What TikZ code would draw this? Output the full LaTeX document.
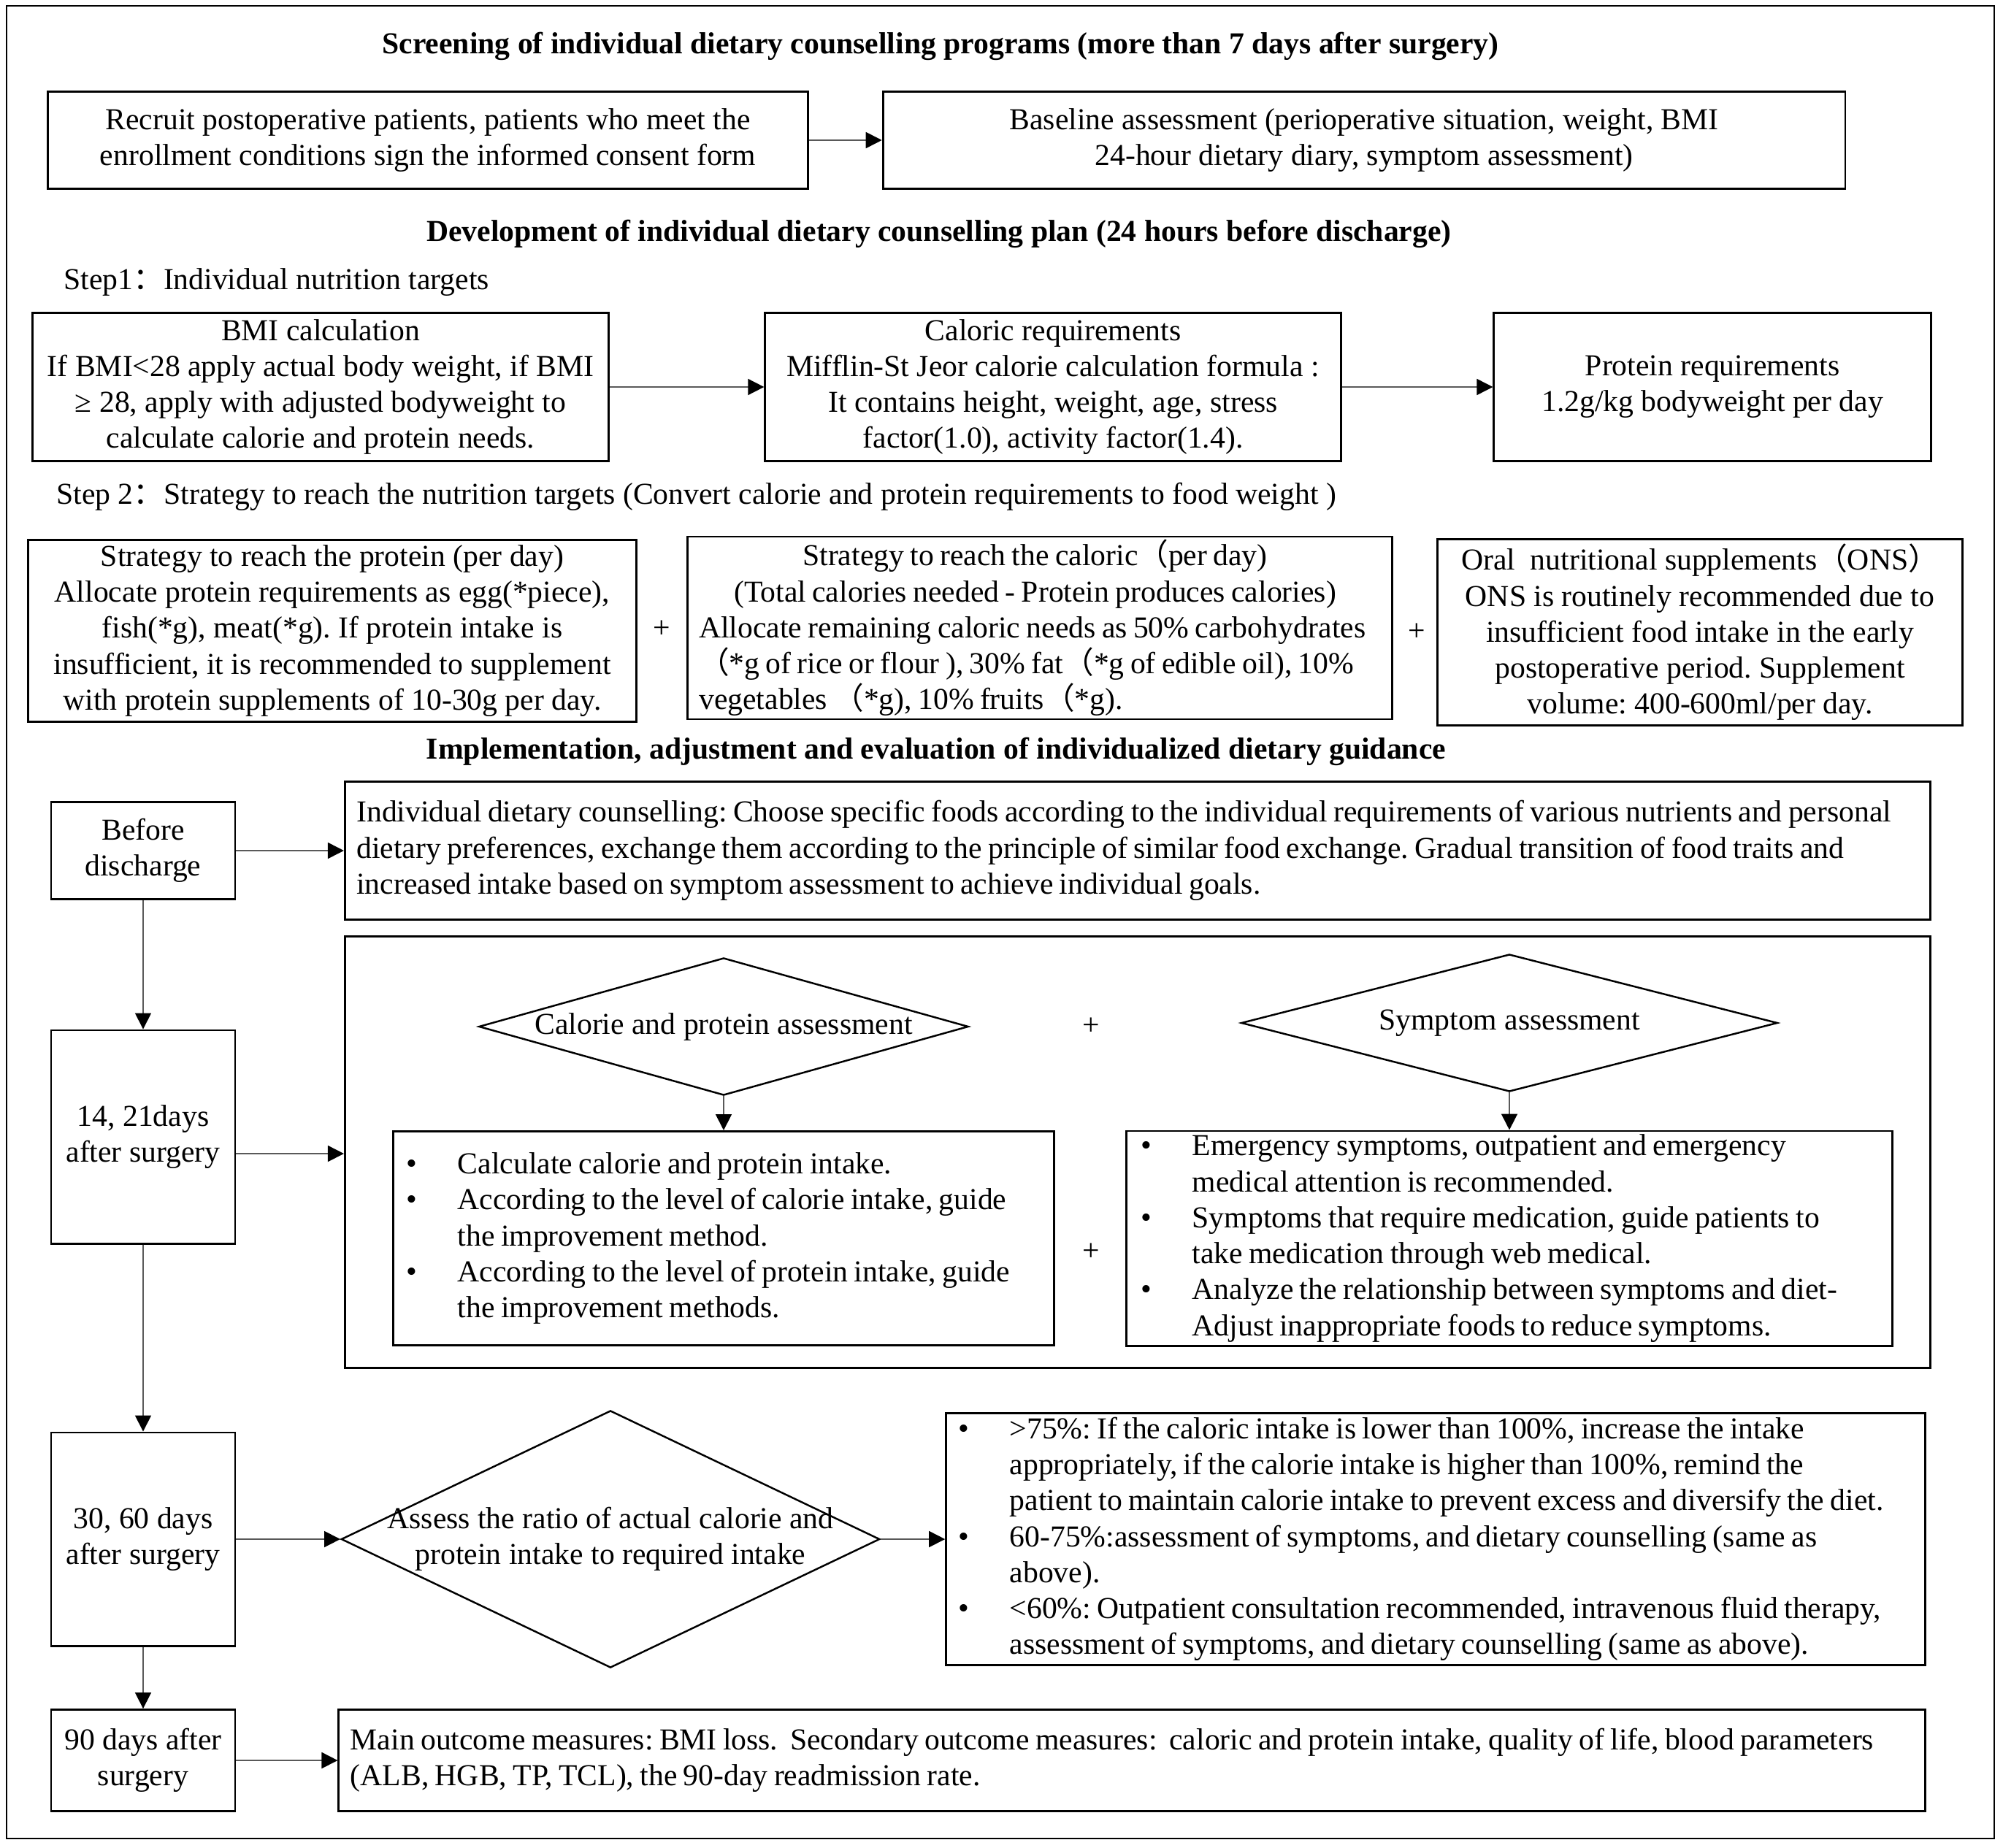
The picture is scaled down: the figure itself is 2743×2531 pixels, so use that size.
\documentclass[tikz,border=0pt]{standalone}
\usepackage{fontspec}
\setmainfont{Liberation Serif}
\newfontfamily\cjk{Noto Sans CJK SC}
\usetikzlibrary{positioning,arrows.meta,shapes.geometric}
\frenchspacing
\hyphenpenalty=10000
\exhyphenpenalty=10000
\protected\def\tightsp{\spaceskip=0.2em\relax}
\newcommand{\bul}{\makebox[0.7cm][l]{\large\textbullet}}
\newcommand{\ind}{\hspace*{0.7cm}}
\newcommand{\fwl}{{\cjk （}}
\newcommand{\fwr}{{\cjk ）}}
\newcommand{\fwc}{{\cjk ：}}

\begin{document}
\begin{tikzpicture}[x=0.01cm, y=-0.01cm,
  every node/.style={font=\fontsize{11.85}{14}\selectfont},
  box/.style={draw, line width=0.8pt, align=center, inner sep=2pt},
  lbox/.style={box, align=left, inner xsep=0.18cm, inner ysep=1pt, execute at begin node=\tightsp},
  dia/.style={draw, diamond, line width=0.7pt, inner sep=0pt},
  head/.style={font=\fontsize{11.85}{14}\selectfont\bfseries},
  note/.style={anchor=west},
  arr/.style={-{Triangle[length=0.22cm, width=0.22cm, color=black]}, black!65, line width=0.5pt}
]
\useasboundingbox (0,0) rectangle (2743,2531);
\draw[line width=0.8pt] (9,8) rectangle (2731,2518);

% screening
\node[head] (screen) at (1288,63) {Screening of individual dietary counselling programs (more than 7 days after surgery)};
\node[box, minimum width=10.4cm, minimum height=1.33cm] (recruit) at (586,192) {Recruit postoperative patients, patients who meet the\\enrollment conditions sign the informed consent form};
\node[box, minimum width=13.17cm, minimum height=1.33cm] (baseline) at (1868,192) {Baseline assessment (perioperative situation, weight, BMI\\24-hour dietary diary, symptom assessment)};
\draw[arr] (recruit) -- (baseline);

% plan, step 1
\node[head] (plan) at (1286,320) {Development of individual dietary counselling plan (24 hours before discharge)};
\node[note] (step1) at (75,387) {Step1\fwc Individual nutrition targets};
\node[box, minimum width=7.88cm, minimum height=2.03cm] (bmi) at (439,530) {BMI calculation\\If BMI<28 apply actual body weight, if BMI\\≥ 28, apply with adjusted bodyweight to\\calculate calorie and protein needs.};
\node[box, minimum width=7.88cm, minimum height=2.03cm] (caloric) at (1442,530) {Caloric requirements\\Mifflin-St Jeor calorie calculation formula :\\It contains height, weight, age, stress\\factor(1.0), activity factor(1.4).};
\node[box, minimum width=5.98cm, minimum height=2.03cm] (protreq) at (2345,530) {Protein requirements\\1.2g/kg bodyweight per day};
\draw[arr] (bmi) -- (caloric);
\draw[arr] (caloric) -- (protreq);

% step 2
\node[note] (step2) at (65,680) {Step 2\fwc Strategy to reach the nutrition targets (Convert calorie and protein requirements to food weight )};
\node[box, minimum width=8.33cm, minimum height=2.48cm] (protstr) at (455,864) {Strategy to reach the protein (per day)\\Allocate protein requirements as egg(*piece),\\fish(*g), meat(*g). If protein intake is\\insufficient, it is recommended to supplement\\with protein supplements of 10-30g per day.};
\node[lbox, text width=9.33cm, minimum height=2.5cm, inner xsep=0.16cm] (calstr) at (1424,860) {\makebox[9.2cm][c]{Strategy to reach the caloric\fwl per day)}\\\makebox[9.2cm][c]{(Total calories needed - Protein produces calories)}\\\mbox{Allocate remaining caloric needs as 50\% carbohydrates}\\\mbox{\fwl*g of rice or flour ), 30\% fat\fwl*g of edible oil), 10\%}\\\mbox{vegetables \fwl*g), 10\% fruits\fwl*g).}};
\node[box, minimum width=7.18cm, minimum height=2.52cm] (ons) at (2328,866) {Oral\ \ nutritional supplements\fwl ONS\fwr\\ONS is routinely recommended due to\\insufficient food intake in the early\\postoperative period. Supplement\\volume: 400-600ml/per day.};
\node (plus1) at (906,862) {+};
\node (plus2) at (1940,866) {+};

% implementation
\node[head] (impl) at (1282,1029) {Implementation, adjustment and evaluation of individualized dietary guidance};
\node[box, minimum width=2.52cm, minimum height=1.33cm] (before) at (196,1165) {Before\\discharge};
\node[lbox, text width=21.38cm, minimum height=1.89cm, inner xsep=0.16cm] (counsel) at (1558,1165) {\mbox{Individual dietary counselling: Choose specific foods according to the individual requirements of various nutrients and personal}\\\mbox{dietary preferences, exchange them according to the principle of similar food exchange. Gradual transition of food traits and}\\\mbox{increased intake based on symptom assessment to achieve individual goals.}};
\node[box, minimum width=21.7cm, minimum height=5.91cm] (panel) at (1558,1578) {};
\node[box, minimum width=2.52cm, minimum height=2.92cm] (days14) at (196,1557) {14, 21days\\after surgery};
\node[dia, minimum width=6.7cm, minimum height=1.88cm, label=center:{Calorie and protein assessment}] (caldia) at (991,1406) {};
\node[dia, minimum width=7.34cm, minimum height=1.88cm, label=center:{Symptom assessment}] (symdia) at (2067,1401) {};
\node (plus3) at (1494,1406) {+};
\node[lbox, text width=8.68cm, minimum height=2.93cm] (intake) at (991,1696) {\bul Calculate calorie and protein intake.\\\mbox{\bul According to the level of calorie intake, guide}\\\ind the improvement method.\\\mbox{\bul According to the level of protein intake, guide}\\\ind the improvement methods.};
\node[lbox, text width=10.08cm, minimum height=2.94cm, inner xsep=0.2cm] (symptom) at (2067,1696) {\mbox{\bul Emergency symptoms, outpatient and emergency}\\\ind medical attention is recommended.\\\mbox{\bul Symptoms that require medication, guide patients to}\\\ind take medication through web medical.\\\mbox{\bul Analyze the relationship between symptoms and diet-}\\\mbox{\ind Adjust inappropriate foods to reduce symptoms.}};
\node (plus4) at (1494,1715) {+};
\draw[arr] (caldia) -- (intake);
\draw[arr] (symdia) -- (symptom);

\node[box, minimum width=2.52cm, minimum height=2.92cm] (days30) at (196,2108) {30, 60 days\\after surgery};
\node[dia, minimum width=7.37cm, minimum height=3.52cm, label={[align=center]center:{Assess the ratio of actual calorie and\\protein intake to required intake}}] (ratio) at (836,2108) {};
\node[lbox, text width=13.06cm, minimum height=3.45cm, inner xsep=0.17cm] (advice) at (1966,2108) {\mbox{\bul >75\%: If the caloric intake is lower than 100\%, increase the intake}\\\mbox{\ind appropriately, if the calorie intake is higher than 100\%, remind the}\\\mbox{\ind patient to maintain calorie intake to prevent excess and diversify the diet.}\\\mbox{\bul 60-75\%:assessment of symptoms, and dietary counselling (same as}\\\ind above).\\\mbox{\bul <60\%: Outpatient consultation recommended, intravenous fluid therapy,}\\\mbox{\ind assessment of symptoms, and dietary counselling (same as above).}};

\node[box, minimum width=2.52cm, minimum height=1.39cm] (days90) at (196,2411) {90 days after\\surgery};
\node[lbox, text width=21.39cm, minimum height=1.39cm, inner xsep=0.16cm] (outcome) at (1550,2411) {\mbox{Main outcome measures: BMI loss.\ \ Secondary outcome measures:\ \ caloric and protein intake, quality of life, blood parameters}\\\mbox{(ALB, HGB, TP, TCL), the 90-day readmission rate.}};

% time line
\coordinate (d14out) at ([yshift=-0.23cm]days14.east);
\draw[arr] (before) -- (counsel);
\draw[arr] (d14out) -- (d14out -| panel.west);
\draw[arr] (days30) -- (ratio);
\draw[arr] (ratio) -- (advice);
\draw[arr] (days90) -- (outcome);
\draw[arr] (before) -- (days14);
\draw[arr] (days14) -- (days30);
\draw[arr] (days30) -- (days90);
\end{tikzpicture}
\end{document}
